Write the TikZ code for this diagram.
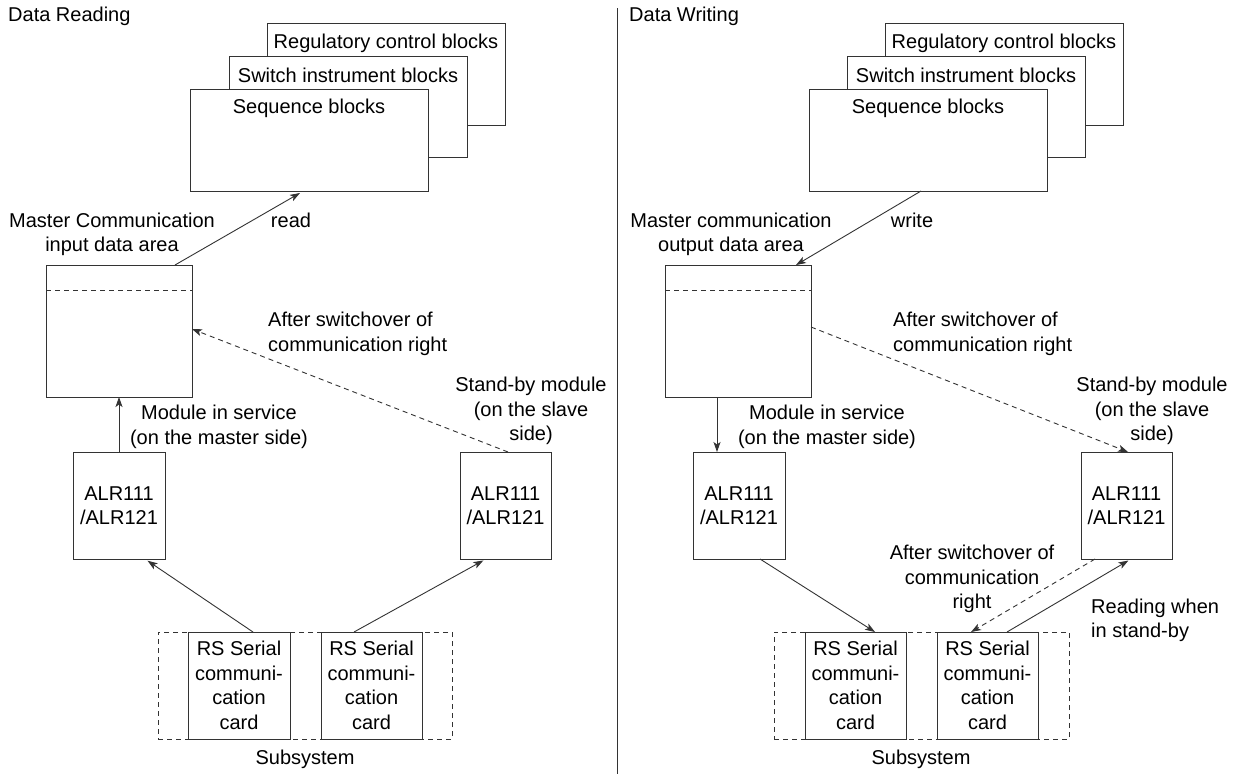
\documentclass[tikz,border=0pt]{standalone}
\usepackage{fontspec}
\setmainfont{Liberation Sans}
\usetikzlibrary{arrows.meta}
\definecolor{lc}{rgb}{0.2,0.2,0.2}
\begin{document}
\begin{tikzpicture}[x=1pt,y=-1pt,
  box/.style={draw=lc,line width=1pt,fill=white,inner sep=0pt,outer sep=0pt},
  tbox/.style={box,font=\fontsize{20}{24.5}\selectfont,align=center,text=black},
  dbox/.style={draw=lc,line width=1pt,dash pattern=on 5pt off 4pt,inner sep=0pt,outer sep=0pt},
  arr/.style={draw=lc,line width=0.9pt,-{Stealth[length=10pt,width=7pt,inset=2.5pt]}},
  darr/.style={arr,dash pattern=on 5pt off 4pt},
  lbl/.style={inner sep=0pt,font=\fontsize{20}{24.5}\selectfont,align=center,text=black}]
\useasboundingbox[fill=white] (0,0) rectangle (1238,774);

% divider
\coordinate (dtop) at (617,8);
\coordinate (dbot) at (617,774);
\draw[lc,line width=1pt] (dtop) -- (dbot);

% ================= LEFT PANEL =================
\node[lbl,anchor=west] (titleL) at (8,16) {Data Reading};

\node[box,minimum width=238pt,minimum height=102pt] (regL) at (386,74) {};
\node[box,minimum width=238pt,minimum height=101pt] (swL) at (348,106.5) {};
\node[box,minimum width=238pt,minimum height=102pt] (seqL) at (309,140) {};
\node[lbl] (regLt) at ([yshift=-20pt]regL.north) {Regulatory control blocks};
\node[lbl] (swLt) at ([yshift=-19pt]swL.north) {Switch instrument blocks};
\node[lbl] (seqLt) at ([yshift=-19pt]seqL.north) {Sequence blocks};

\node[box,minimum width=146pt,minimum height=132pt] (mL) at (119,331) {};
\draw[dbox] ([yshift=-25pt]mL.north west) -- ([yshift=-25pt]mL.north east);
\node[lbl] (mLt) at (112,234.5) {Master Communication\\input data area};

\draw[arr] ([xshift=56pt]mL.north) -- ([xshift=-9pt,yshift=-2pt]seqL.south);
\node[lbl] (readL) at (291,220) {read};

\node[tbox,minimum width=92pt,minimum height=107pt] (alrL1) at (119,505.5) {ALR111\\/ALR121};
\node[tbox,minimum width=91pt,minimum height=107pt] (alrL2) at (505.5,505.5) {ALR111\\/ALR121};

\draw[arr] (alrL1.north) -- (mL.south);
\node[lbl] (misL) at (219,427) {Module in service\\(on the master side)};

\draw[darr] ([xshift=2.5pt]alrL2.north) -- ([yshift=2pt]mL.east);
\node[lbl,anchor=west,align=left] (aswL) at (268,334) {After switchover of\\communication right};
\node[lbl] (sbL) at (531,411) {Stand-by module\\(on the slave\\side)};

\node[dbox,minimum width=294pt,minimum height=107pt] (subL) at (305,685.5) {};
\node[tbox,minimum width=102pt,minimum height=107pt] (cardL1) at (239,685.5) {RS Serial\\communi-\\cation\\card};
\node[tbox,minimum width=101pt,minimum height=107pt] (cardL2) at (371.5,685.5) {RS Serial\\communi-\\cation\\card};
\node[lbl] (subLt) at (305,759) {Subsystem};

\draw[arr,shorten >=3pt] ([xshift=14pt]cardL1.north) -- ([xshift=26pt]alrL1.south);
\draw[arr,shorten >=3pt] ([xshift=-17.5pt]cardL2.north) -- ([xshift=-19.5pt]alrL2.south);

% ================= RIGHT PANEL =================
\node[lbl,anchor=west] (titleR) at (629,16) {Data Writing};

\node[box,minimum width=238pt,minimum height=102pt] (regR) at (1004,74) {};
\node[box,minimum width=238pt,minimum height=101pt] (swR) at (966,106.5) {};
\node[box,minimum width=238pt,minimum height=102pt] (seqR) at (928,140) {};
\node[lbl] (regRt) at ([yshift=-20pt]regR.north) {Regulatory control blocks};
\node[lbl] (swRt) at ([yshift=-19pt]swR.north) {Switch instrument blocks};
\node[lbl] (seqRt) at ([yshift=-19pt]seqR.north) {Sequence blocks};

\node[box,minimum width=146pt,minimum height=132pt] (mR) at (738,331) {};
\draw[dbox] ([yshift=-25pt]mR.north west) -- ([yshift=-25pt]mR.north east);
\node[lbl] (mRt) at (731,234.5) {Master communication\\output data area};

\draw[arr] ([xshift=-7pt]seqR.south) -- ([xshift=58pt]mR.north);
\node[lbl] (writeR) at (912,220) {write};

\node[tbox,minimum width=92pt,minimum height=107pt] (alrR1) at (739,505.5) {ALR111\\/ALR121};
\node[tbox,minimum width=91pt,minimum height=107pt] (alrR2) at (1126.5,505.5) {ALR111\\/ALR121};

\draw[arr] ([xshift=-21pt]mR.south) -- ([xshift=-22pt]alrR1.north);
\node[lbl] (misR) at (827,427) {Module in service\\(on the master side)};

\draw[darr] ([yshift=4pt]mR.east) -- ([xshift=1.5pt]alrR2.north);
\node[lbl,anchor=west,align=left] (aswR) at (893,334) {After switchover of\\communication right};
\node[lbl] (sbR) at (1152,411) {Stand-by module\\(on the slave\\side)};

\node[dbox,minimum width=295pt,minimum height=107pt] (subR) at (921.5,685.5) {};
\node[tbox,minimum width=101pt,minimum height=107pt] (cardR1) at (855.5,685.5) {RS Serial\\communi-\\cation\\card};
\node[tbox,minimum width=101pt,minimum height=107pt] (cardR2) at (987.5,685.5) {RS Serial\\communi-\\cation\\card};
\node[lbl] (subRt) at (921,759) {Subsystem};

\draw[arr] ([xshift=21pt]alrR1.south) -- ([xshift=19.5pt]cardR1.north);
\draw[darr] ([xshift=-31.5pt]alrR2.south) -- ([xshift=-16.5pt]cardR2.north);
\draw[arr,shorten >=3pt] ([xshift=19.5pt]cardR2.north) -- ([xshift=4.5pt]alrR2.south);
\node[lbl] (aswR2) at (972,579) {After switchover of\\communication\\right};
\node[lbl,anchor=west,align=left] (rdR) at (1091,620.5) {Reading when\\in stand-by};
\end{tikzpicture}
\end{document}
